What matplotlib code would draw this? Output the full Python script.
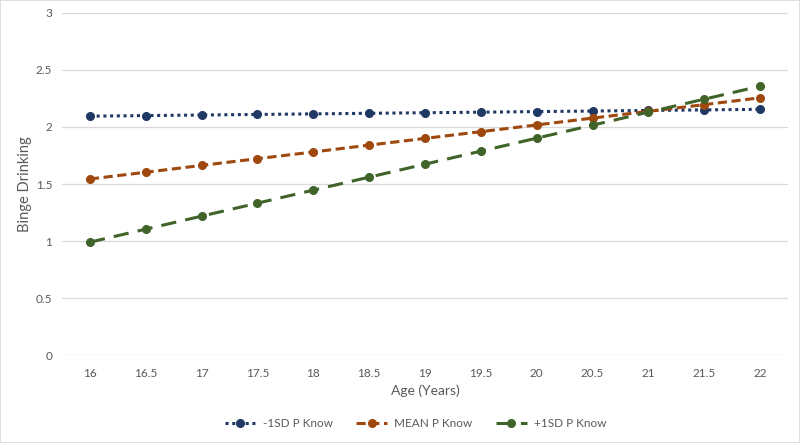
import matplotlib
matplotlib.use("Agg")
import matplotlib.pyplot as plt
from matplotlib.patches import Rectangle

ages = ["16", "16.5", "17", "17.5", "18", "18.5", "19", "19.5", "20", "20.5", "21", "21.5", "22"]
low_sd = [2.095, 2.100, 2.105, 2.110, 2.115, 2.120, 2.125, 2.130, 2.135, 2.140, 2.145, 2.150, 2.155]
mean_k = [1.544, 1.603, 1.663, 1.722, 1.781, 1.841, 1.900, 1.959, 2.018, 2.078, 2.137, 2.196, 2.256]
high_sd = [0.990, 1.104, 1.218, 1.332, 1.446, 1.560, 1.674, 1.788, 1.902, 2.016, 2.130, 2.244, 2.358]
series_names = ["-1SD P Know", "MEAN P Know", "+1SD P Know"]
yticks = [0, 0.5, 1, 1.5, 2, 2.5, 3]

plt.rcParams['font.family'] = ['Lato', 'DejaVu Sans']
grey = '#595959'

fig = plt.figure(figsize=(8, 4.43), dpi=100)
ax = fig.add_axes([0.0775, 0.1986, 0.9075, 0.7721])

x = list(range(len(ages)))
ax.plot(x, low_sd, color='#203864', linestyle=(0, (1, 1.2)), linewidth=2.2,
        marker='o', markersize=5.5, label=series_names[0], zorder=3)
ax.plot(x, mean_k, color='#9e480e', linestyle=(0, (3, 1.5)), linewidth=2.2,
        marker='o', markersize=5.5, label=series_names[1], zorder=3)
ax.plot(x, high_sd, color='#3f6328', linestyle=(0, (5, 3)), linewidth=2.2,
        marker='o', markersize=5.5, label=series_names[2], zorder=3)

ax.set_xlim(-0.5, len(ages) - 0.5)
ax.set_ylim(0, 3)
ax.set_yticks(yticks)
ax.set_yticklabels([f"{t:g}" for t in yticks])
ax.set_xticks(x)
ax.set_xticklabels(ages)
ax.grid(axis='y', color='#d9d9d9', linewidth=0.9)
ax.set_axisbelow(True)
for s in ax.spines.values():
    s.set_visible(False)
ax.tick_params(axis='both', length=0, colors=grey, labelsize=8.5)
ax.tick_params(axis='x', pad=9)
ax.tick_params(axis='y', pad=7)
ax.set_xlabel("Age (Years)", color=grey, fontsize=10, labelpad=4)
ax.set_ylabel("Binge Drinking", color=grey, fontsize=10.5, labelpad=3)

leg = ax.legend(loc='center', bbox_to_anchor=(0.487, -0.2), ncol=3, frameon=False,
                fontsize=8.5, handlelength=2.6, handletextpad=0.6,
                columnspacing=2.0, labelcolor=grey)

fig.patches.append(Rectangle((0, 0), 1, 1, transform=fig.transFigure, fill=False,
                             edgecolor='#d9d9d9', linewidth=1.2))
fig.savefig("out.png", dpi=100)
